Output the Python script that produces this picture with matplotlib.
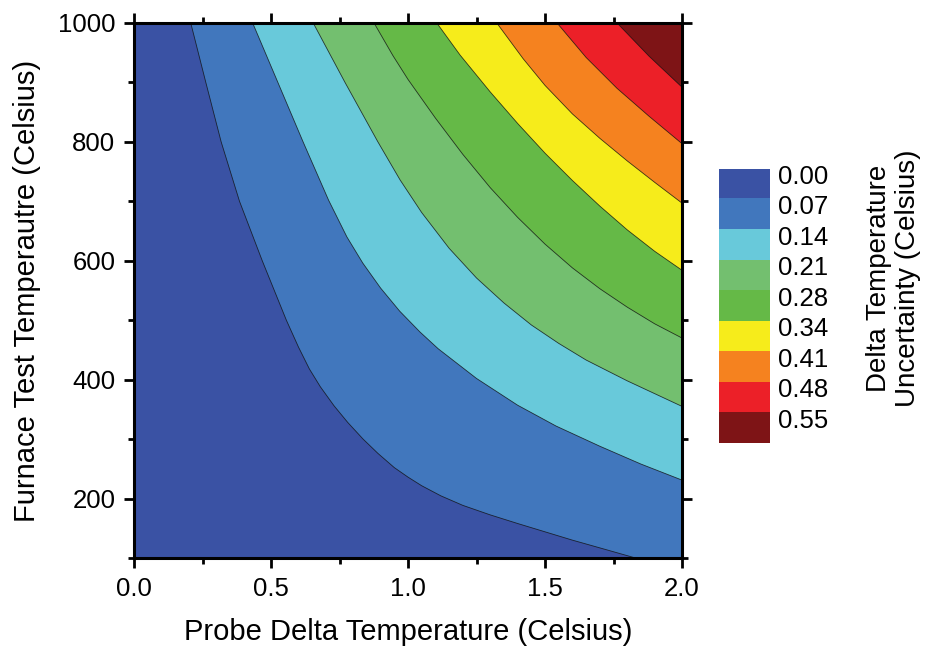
import numpy as np
import matplotlib
matplotlib.use("Agg")
import matplotlib.pyplot as plt
from matplotlib.colors import ListedColormap

# contour boundaries, each running from the top edge (1000 C) to the right/bottom edge
b007_x = [0.207, 0.262, 0.318, 0.385, 0.468, 0.556, 0.60, 0.64, 0.68, 0.73, 0.78, 0.836,
          0.89, 0.95, 1.0, 1.05, 1.12, 1.2, 1.3, 1.4, 1.5, 1.6, 1.7, 1.83]
b007_y = [1000, 900, 800, 700, 600, 500, 455, 418, 388, 356, 328, 300,
          276, 252, 236, 221.5, 204.5, 188.5, 172.5, 158, 144, 130, 117, 100]

b014_x = [0.433, 0.525, 0.617, 0.71, 0.777, 0.835, 0.90, 0.97, 1.044, 1.11, 1.25, 1.4,
          1.54, 1.7, 1.85, 2.0]
b014_y = [1000, 900, 800, 702, 640, 596, 554, 515, 480, 452, 402, 357,
          322, 288, 258, 231]

b021_x = [0.654, 0.77, 0.89, 0.971, 1.05, 1.15, 1.25, 1.35, 1.45, 1.55, 1.65, 1.8, 2.0]
b021_y = [1000, 900, 800, 736, 681, 621, 571, 529, 492, 461, 433, 398, 355]

b028_x = [0.876, 0.945, 1.0, 1.1, 1.2, 1.3, 1.4, 1.5, 1.6, 1.7, 1.8, 1.9, 2.0]
b028_y = [1000, 945, 905, 840, 779, 723, 673, 628, 588, 553, 522, 494, 470]

b034_x = [1.105, 1.19, 1.3, 1.4, 1.5, 1.6, 1.7, 1.8, 1.9, 2.0]
b034_y = [1000, 946, 884, 831, 781, 735, 692, 652, 616, 584]

b041_x = [1.324, 1.42, 1.5, 1.6, 1.7, 1.8, 1.9, 2.0]
b041_y = [1000, 940, 895, 847, 806, 768, 732, 697]

b048_x = [1.544, 1.65, 1.763, 1.88, 2.0]
b048_y = [1000, 942, 890, 843, 797]

b055_x = [1.763, 1.88, 2.0]
b055_y = [1000, 944, 892]

level_labels = ["0.00", "0.07", "0.14", "0.21", "0.28", "0.34", "0.41", "0.48", "0.55"]
level_colors = ["#3a52a4", "#4177bd", "#68c9da", "#73bf6f", "#65b947",
                "#f6ec1b", "#f5821f", "#ec2028", "#7e1416"]

boundaries = [
    (b007_x, b007_y), (b014_x, b014_y), (b021_x, b021_y), (b028_x, b028_y),
    (b034_x, b034_y), (b041_x, b041_y), (b048_x, b048_y), (b055_x, b055_y),
]

X_MIN, X_MAX = 0.0, 2.0
Y_MIN, Y_MAX = 100, 1000


def draw_bands(ax):
    # lowest band is the axes background, each higher band is painted on top
    ax.set_facecolor(level_colors[0])
    for i, (bx, by) in enumerate(boundaries):
        px = list(bx)
        py = list(by)
        if py[-1] == Y_MIN:
            px += [X_MAX, X_MAX]
            py += [Y_MIN, Y_MAX]
        else:
            px += [X_MAX]
            py += [Y_MAX]
        ax.fill(px, py, color=level_colors[i + 1], lw=0, zorder=1)
    for bx, by in boundaries:
        ax.plot(bx, by, color="#111111", lw=0.6, alpha=0.8, zorder=2,
                solid_joinstyle="round")


def draw_colorbar(fig):
    cax = fig.add_axes([0.7773, 0.3153, 0.0541, 0.4235])
    cax.imshow(np.arange(len(level_colors))[:, None], cmap=ListedColormap(level_colors),
               aspect="auto", extent=(0, 1, len(level_colors), 0), interpolation="nearest")
    cax.set_xticks([])
    cax.set_yticks(np.arange(len(level_labels)) + 0.18)
    cax.set_yticklabels(level_labels)
    cax.tick_params(axis="y", length=0, left=False, labelleft=False,
                    right=False, labelright=True, pad=6.5, labelsize=18.5)
    for s in cax.spines.values():
        s.set_visible(False)
    fig.text(0.9660, 0.570, "Delta Temperature\nUncertainty (Celsius)", rotation=90,
             ha="center", va="center", fontsize=20, linespacing=1.15)


def main():
    plt.rcParams["font.family"] = ["Liberation Sans", "DejaVu Sans"]
    fig = plt.figure(figsize=(9.25, 6.47), dpi=100)
    ax = fig.add_axes([0.1449, 0.1376, 0.5924, 0.8269])

    draw_bands(ax)

    ax.set_xlim(X_MIN, X_MAX)
    ax.set_ylim(Y_MIN, Y_MAX)
    ax.set_xticks([0.0, 0.5, 1.0, 1.5, 2.0])
    ax.set_xticks([0.25, 0.75, 1.25, 1.75], minor=True)
    ax.set_xticklabels(["0.0", "0.5", "1.0", "1.5", "2.0"])
    ax.set_yticks([200, 400, 600, 800, 1000])
    ax.set_yticks([100, 300, 500, 700, 900], minor=True)

    ax.tick_params(which="both", direction="out", top=True, right=True,
                   width=2, labelsize=18.5)
    ax.tick_params(which="major", length=7.5)
    ax.tick_params(which="minor", length=4.5)
    ax.tick_params(axis="x", which="major", pad=6)
    ax.tick_params(axis="y", which="major", pad=6)
    for s in ax.spines.values():
        s.set_linewidth(2.2)
        s.set_zorder(5)

    ax.set_xlabel("Probe Delta Temperature (Celsius)", fontsize=21)
    ax.set_ylabel("Furnace Test Temperautre (Celsius)", fontsize=21)
    ax.xaxis.set_label_coords(0.5, -0.112)
    ax.yaxis.set_label_coords(-0.1695, 0.5)

    draw_colorbar(fig)

    fig.savefig("out.png", dpi=100)


if __name__ == "__main__":
    main()
